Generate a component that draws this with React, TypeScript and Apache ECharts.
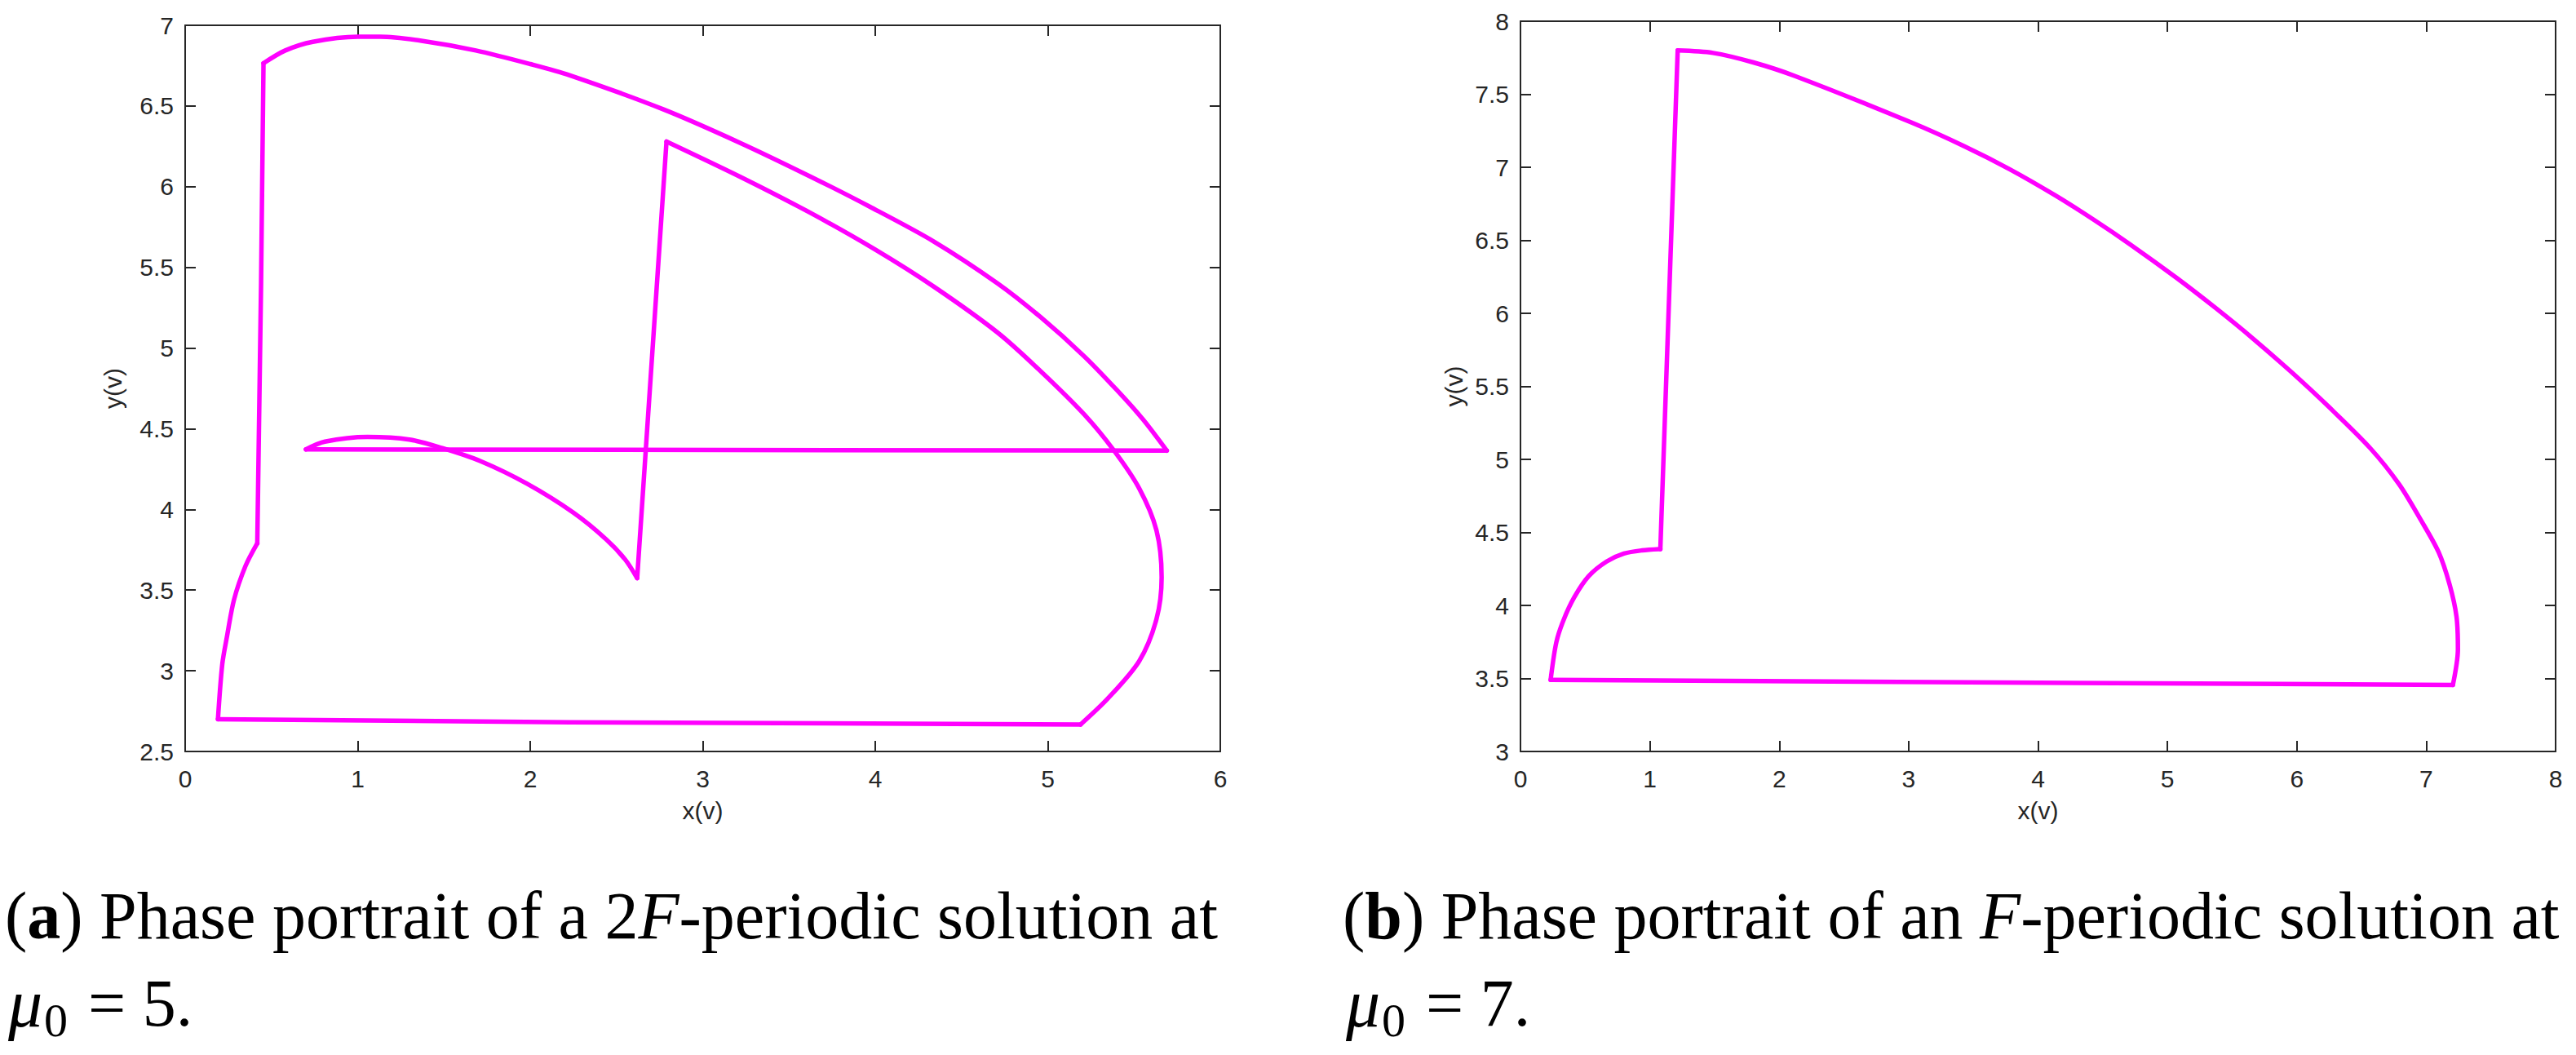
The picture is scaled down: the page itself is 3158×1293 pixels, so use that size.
import React, { useEffect, useRef } from "react";
import * as echarts from "echarts";

type Pt = [number, number];

// (a) 2F-periodic solution at mu0 = 5 — trajectory pieces, in order
const aJumpLine: Pt[] = [[0.70, 4.372], [5.69, 4.364]];
const aOuterArc: Pt[] = [
  [5.69, 4.364], [5.55, 4.56], [5.40, 4.74], [5.21, 4.95], [4.96, 5.19], [4.71, 5.40], [4.34, 5.66],
  [3.97, 5.875], [3.62, 6.065], [3.22, 6.27], [2.77, 6.48], [2.23, 6.69], [2.00, 6.76], [1.685, 6.844],
  [1.37, 6.904], [1.13, 6.929], [1.00, 6.929], [0.74, 6.898], [0.58, 6.844], [0.454, 6.765],
];
const aLeftDrop: Pt[] = [[0.454, 6.765], [0.44, 5.40], [0.418, 3.79]];
const aLeftCurve: Pt[] = [
  [0.418, 3.79], [0.35, 3.65], [0.283, 3.44], [0.242, 3.21], [0.215, 3.04], [0.19, 2.70],
];
const aBottomLine: Pt[] = [[0.19, 2.70], [2.23, 2.681], [5.19, 2.667]];
const aInnerArc: Pt[] = [
  [5.19, 2.667], [5.35, 2.83], [5.53, 3.06], [5.63, 3.32], [5.66, 3.58], [5.63, 3.87], [5.53, 4.13],
  [5.38, 4.37], [5.21, 4.59], [4.96, 4.855], [4.71, 5.095], [4.34, 5.38], [4.00, 5.61], [3.62, 5.84],
  [3.22, 6.06], [2.79, 6.28],
];
const aSpike: Pt[] = [[2.79, 6.28], [2.62, 3.574]];
const aSmallArc: Pt[] = [
  [2.62, 3.574], [2.55, 3.69], [2.44, 3.815], [2.25, 3.98], [1.98, 4.16], [1.71, 4.30], [1.49, 4.38],
  [1.30, 4.433], [1.057, 4.449], [0.81, 4.42], [0.70, 4.372],
];

// (b) F-periodic solution at mu0 = 7 — trajectory pieces, in order
const bArc: Pt[] = [
  [1.215, 7.80], [1.488, 7.783], [1.80, 7.718], [2.118, 7.626], [3.02, 7.307], [3.43, 7.144],
  [3.78, 6.987], [4.13, 6.809], [4.43, 6.641], [4.72, 6.467], [5.07, 6.243], [5.37, 6.038], [5.66, 5.828],
  [5.96, 5.596], [6.25, 5.357], [6.57, 5.074], [6.79, 4.83], [6.957, 4.587], [7.095, 4.366], [7.18, 4.145],
  [7.234, 3.924], [7.245, 3.70], [7.206, 3.455],
];
const bBottomLine: Pt[] = [[7.206, 3.455], [0.233, 3.49]];
const bHump: Pt[] = [
  [0.233, 3.49], [0.277, 3.747], [0.333, 3.90], [0.416, 4.056], [0.527, 4.20], [0.665, 4.30],
  [0.80, 4.355], [0.94, 4.377], [1.081, 4.386],
];
const bRise: Pt[] = [[1.081, 4.386], [1.215, 7.80]];

const xRangeA = [0, 6];
const yRangeA = [2.5, 7];
const xRangeB = [0, 8];
const yRangeB = [3, 8];

const xName = "x(v)";
const yName = "y(v)";

const AXIS = "#262626";
const MAGENTA = "#ff00ff";
const SANS = "'Liberation Sans', Arial, Helvetica, sans-serif";
const SERIF = "'Liberation Serif', 'Times New Roman', serif";

function axisCommon(showLabel: boolean) {
  return {
    type: "value" as const,
    axisLine: { show: true, onZero: false, lineStyle: { color: AXIS, width: 2 } },
    axisTick: { show: true, inside: true, length: 13, lineStyle: { color: AXIS, width: 2 } },
    axisLabel: { show: showLabel, fontSize: 30, color: AXIS, fontFamily: SANS },
    splitLine: { show: false },
  };
}

function piece(data: Pt[], axisIdx: number, smooth: boolean) {
  return {
    type: "line",
    xAxisIndex: axisIdx,
    yAxisIndex: axisIdx,
    data,
    showSymbol: false,
    symbol: "none",
    smooth: smooth ? 0.3 : false,
    lineStyle: { color: MAGENTA, width: 5.5, join: "round", cap: "round" },
  };
}

export default function App() {
  const ref = useRef<HTMLDivElement>(null);

  useEffect(() => {
    if (!ref.current) return;
    const chart = echarts.init(ref.current, undefined, { renderer: "svg" });

    const mk = (gi: number, pos: string, range: number[], interval: number, label: boolean, isX: boolean, nameGap: number) => {
      const base: any = axisCommon(label);
      base.gridIndex = gi;
      base.position = pos;
      base.min = range[0];
      base.max = range[1];
      base.interval = interval;
      if (label) {
        base.axisLabel.margin = isX ? 18 : 14;
        base.name = isX ? xName : yName;
        base.nameLocation = "middle";
        base.nameGap = nameGap;
        base.nameTextStyle = { fontSize: 30, color: AXIS, fontFamily: SANS };
      }
      return base;
    };

    const rich = {
      n: { fontFamily: SERIF, fontSize: 82, fill: "#000" },
      b: { fontFamily: SERIF, fontSize: 82, fontWeight: "bold", fill: "#000" },
      i: { fontFamily: SERIF, fontSize: 82, fontStyle: "italic", fill: "#000" },
    };

    const capLine1 = (x: number, letter: string, body1: string, body2: string) => ({
      type: "text",
      x,
      y: 1122,
      style: {
        text: `{n|(}{b|${letter}}{n|) ${body1}}{i|F}{n|${body2}}`,
        rich,
        fontFamily: SERIF,
        fontSize: 82,
        align: "left",
        verticalAlign: "middle",
        fill: "#000",
      },
    });
    const capLine2 = (x: number, val: string) => [
      {
        type: "text",
        x,
        y: 1229,
        style: { text: "\u03bc", fontFamily: SERIF, fontSize: 84, fontStyle: "italic", align: "left", verticalAlign: "middle", fill: "#000" },
      },
      {
        type: "text",
        x: x + 44,
        y: 1250,
        style: { text: "0", fontFamily: SERIF, fontSize: 58, align: "left", verticalAlign: "middle", fill: "#000" },
      },
      {
        type: "text",
        x: x + 98,
        y: 1229,
        style: { text: `= ${val}.`, fontFamily: SERIF, fontSize: 82, align: "left", verticalAlign: "middle", fill: "#000" },
      },
    ];

    chart.setOption({
      animation: false,
      backgroundColor: "#fff",
      grid: [
        { left: 227, top: 31, width: 1269, height: 890 },
        { left: 1864, top: 26, width: 1269, height: 895 },
      ],
      xAxis: [
        mk(0, "bottom", xRangeA, 1, true, true, 57),
        mk(0, "top", xRangeA, 1, false, true, 0),
        mk(1, "bottom", xRangeB, 1, true, true, 57),
        mk(1, "top", xRangeB, 1, false, true, 0),
      ],
      yAxis: [
        mk(0, "left", yRangeA, 0.5, true, false, 74),
        mk(0, "right", yRangeA, 0.5, false, false, 0),
        mk(1, "left", yRangeB, 0.5, true, false, 67),
        mk(1, "right", yRangeB, 0.5, false, false, 0),
      ],
      series: [
        piece(aJumpLine, 0, false),
        piece(aOuterArc, 0, true),
        piece(aLeftDrop, 0, false),
        piece(aLeftCurve, 0, true),
        piece(aBottomLine, 0, false),
        piece(aInnerArc, 0, true),
        piece(aSpike, 0, false),
        piece(aSmallArc, 0, true),
        piece(bArc, 2, true),
        piece(bBottomLine, 2, false),
        piece(bHump, 2, true),
        piece(bRise, 2, false),
      ],
      graphic: [
        capLine1(6, "a", "Phase portrait of a 2", "-periodic solution at"),
        ...capLine2(10, "5"),
        capLine1(1646, "b", "Phase portrait of an ", "-periodic solution at"),
        ...capLine2(1650, "7"),
      ],
    });

    return () => chart.dispose();
  }, []);

  return (
    <div
      ref={ref}
      style={{ position: "absolute", left: 0, top: 0, width: 3158, height: 1293, background: "#fff" }}
    />
  );
}
